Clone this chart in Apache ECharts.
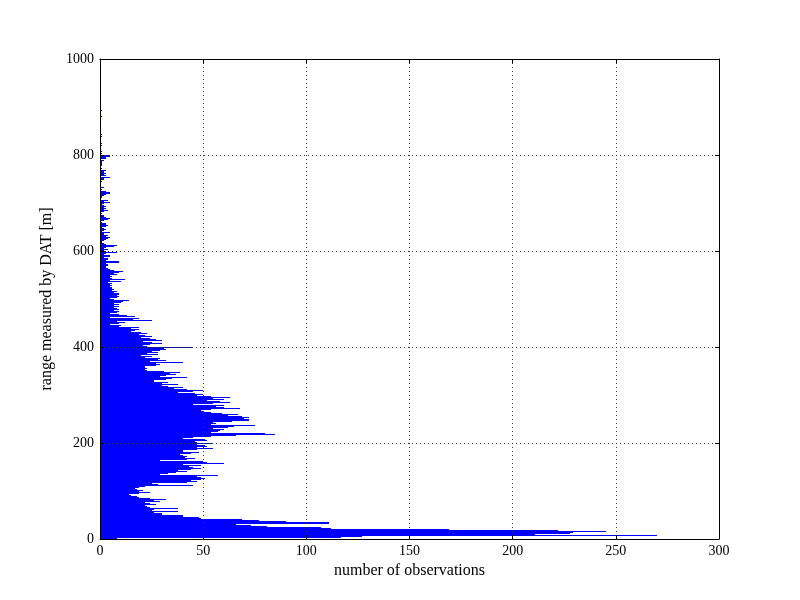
<!DOCTYPE html>
<html>
<head>
<meta charset="utf-8">
<title>range histogram</title>
<script src="https://cdn.jsdelivr.net/npm/echarts/dist/echarts.min.js"></script>
<style>
  html, body { margin: 0; padding: 0; background: #fff; }
  #chart { width: 800px; height: 600px; }
</style>
</head>
<body>
<div id="chart"></div>
<script>
'use strict';

// histogram of ranges, 2 m bins, counts (bottom to top)
var binWidth = 2;
var counts0to100 = [8,117,127,270,211,228,229,245,222,169,
    112,107,107,81,73,66,111,111,90,77,
    69,49,48,40,40,30,30,26,38,25,
    26,38,24,23,22,27,24,20,22,29,
    26,32,24,19,18,15,14,19,24,19];
var counts100to200 = [21,18,17,19,22,45,28,25,42,47,
    44,49,37,51,49,47,57,29,33,37,
    42,38,44,49,45,43,49,40,60,52,
    50,29,42,46,41,42,40,40,39,44,
    48,40,40,47,55,47,52,51,47,55];
var counts200to300 = [47,46,52,51,40,45,54,66,85,80,
    54,57,52,58,60,55,62,65,75,54,
    56,55,64,72,72,70,72,69,62,67,
    59,54,50,49,54,68,51,60,56,60,
    45,55,63,58,52,60,55,63,54,47];
var counts300to400 = [50,46,38,45,50,42,36,40,33,30,
    38,30,25,33,26,26,32,35,42,29,
    32,37,34,39,31,23,22,23,22,22,
    27,29,27,40,24,32,28,24,29,22,
    25,20,28,23,28,25,29,32,31,45];
var counts400to500 = [23,21,24,30,25,21,30,27,24,20,
    25,22,20,19,23,20,15,17,19,15,
    19,9,10,5,9,12,8,25,16,19,
    5,17,13,9,5,8,7,9,7,9,
    8,7,9,7,9,7,10,11,14,7];
var counts500to600 = [5,8,9,8,9,9,7,8,6,7,
    6,1,6,5,6,5,6,4,10,5,
    12,6,5,6,5,8,7,9,11,7,
    5,4,3,3,4,4,3,1,9,9,
    3,4,4,2,5,5,2,3,8,3];
var counts600to700 = [2,4,2,3,7,8,3,2,1,1,
    2,3,2,4,5,3,4,2,2,5,
    1,2,3,2,1,3,4,3,3,1,
    0,2,4,5,3,2,2,0,0,1,
    0,2,4,2,3,2,3,2,1,2];
var counts700to800 = [5,2,4,0,0,1,1,2,3,5,
    5,3,2,0,1,0,2,0,0,0,
    0,0,1,0,2,2,5,0,3,2,
    3,2,2,3,0,1,0,0,0,1,
    1,1,1,1,2,0,3,3,5,5];
var counts800to900 = [0,1,0,1,0,0,0,0,0,1,
    0,1,0,0,0,0,0,0,0,1,
    0,1,0,0,0,0,0,0,0,0,
    0,0,0,0,0,0,0,0,0,0,
    1,0,0,0,0,0,1,0,0,0];

var xTicks = [0, 50, 100, 150, 200, 250, 300];
var yTicks = [0, 200, 400, 600, 800, 1000];

var counts = [].concat(counts0to100, counts100to200, counts200to300,
    counts300to400, counts400to500, counts500to600, counts600to700,
    counts700to800, counts800to900);

var bins = [];
counts.forEach(function (n, i) {
    if (n > 0) {
        bins.push([i * binWidth, (i + 1) * binWidth, n]);
    }
});

var font = 'Liberation Serif';
var gridStyle = { color: '#333', width: 1, type: [1, 3] };

function frameAxis(pos, ticks, withGrid) {
    return {
        type: 'value',
        position: pos,
        min: ticks[0],
        max: ticks[ticks.length - 1],
        interval: ticks[1] - ticks[0],
        z: 5,
        axisLine: { show: true, onZero: false, lineStyle: { color: '#000', width: 1 } },
        axisTick: { show: true, inside: true, length: 4, lineStyle: { color: '#000' } },
        axisLabel: { show: false },
        splitLine: { show: withGrid, lineStyle: gridStyle }
    };
}

var xMain = frameAxis('bottom', xTicks, false);
xMain.name = 'number of observations';
xMain.nameLocation = 'middle';
xMain.nameGap = 16;
xMain.nameTextStyle = { fontFamily: font, fontSize: 16, color: '#000' };
xMain.axisLabel = { show: true, margin: 5, fontFamily: font, fontSize: 14, color: '#000' };

var yMain = frameAxis('left', yTicks, false);
yMain.name = 'range measured by DAT [m]';
yMain.nameLocation = 'middle';
yMain.nameGap = 28;
yMain.nameTextStyle = { fontFamily: font, fontSize: 16, color: '#000' };
yMain.axisLabel = {
    show: true, margin: 6, fontFamily: font, fontSize: 14, color: '#000',
    formatter: function (v) { return String(v); }
};

var option = {
    animation: false,
    backgroundColor: '#fff',
    grid: { left: 100, right: 81, top: 59, bottom: 61 },
    xAxis: [xMain, frameAxis('top', xTicks, true)],
    yAxis: [yMain, frameAxis('right', yTicks, true)],
    series: [{
        type: 'custom',
        xAxisIndex: 0,
        yAxisIndex: 0,
        clip: true,
        z: 2,
        encode: { x: 2, y: [0, 1] },
        data: bins,
        renderItem: function (params, api) {
            var top = api.coord([api.value(2), api.value(1)]);
            var base = api.coord([0, api.value(0)]);
            // snap to whole pixels so neighbouring bars join without seams
            var x0 = Math.round(base[0]);
            var x1 = Math.round(top[0]);
            var y0 = Math.round(top[1]);
            var y1 = Math.round(base[1]);
            return {
                type: 'rect',
                shape: {
                    x: x0,
                    y: y0,
                    width: Math.max(1, x1 - x0),
                    height: Math.max(1, y1 - y0)
                },
                style: { fill: '#0000ff' }
            };
        }
    }]
};

var myChart = echarts.init(document.getElementById('chart'));
myChart.setOption(option);
</script>
</body>
</html>
